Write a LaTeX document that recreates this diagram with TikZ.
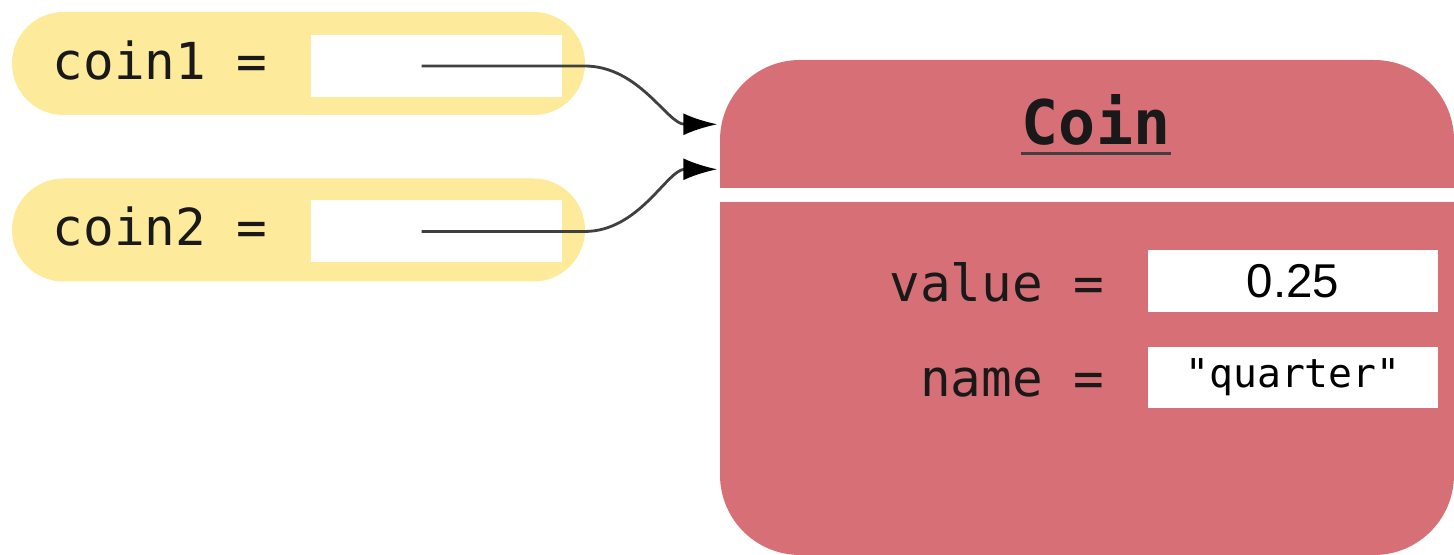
\documentclass[tikz,border=0pt]{standalone}
\usepackage{fontspec}
\setmainfont{Liberation Sans}
\setmonofont{DejaVu Sans Mono}
\usetikzlibrary{positioning,arrows.meta,calc}
\definecolor{pillyellow}{RGB}{253,234,155}
\definecolor{objred}{RGB}{215,111,118}

\begin{document}
\begin{tikzpicture}[
    var/.style ={
        fill=pillyellow,
        minimum width=5.73cm,
        minimum height=1.03cm,
        rounded corners=0.515cm,
        inner sep=0
    },
    slot/.style ={
        fill=white,
        minimum width=2.51cm,
        minimum height=0.62cm,
        inner sep=0
    },
    obj/.style ={
        fill=objred,
        minimum width=7.34cm,
        minimum height=4.95cm,
        rounded corners=0.8cm,
        inner sep=0
    },
    lbl/.style ={
        font=\ttfamily\fontsize{14.5}{17}\selectfont,
        text=black!90,
        inner sep=0
    },
    ref/.style ={
        draw=black!75,
        line width=0.8pt,
        -{Latex[length=0.34cm,width=0.22cm,black]}
    }
    ]
    \useasboundingbox (0,0) rectangle (14.54,5.55);

    % variables
    \node[var] (pill1) at (2.985,4.915) {};
    \node[var] (pill2) at (2.985,3.25) {};
    \node[slot] (slot1) at (4.365,4.89) {};
    \node[slot] (slot2) at (4.365,3.235) {};
    \node[lbl, anchor=base west] (coin1) at (0.52,4.75) {coin1 =};
    \node[lbl, anchor=base west] (coin2) at (0.52,3.09) {coin2 =};

    % object
    \node[obj] (coin) at (10.87,2.475) {};
    \fill[white] (coin.west |- 0,3.53) rectangle (14.54,3.67);
    \node[font=\ttfamily\bfseries\fontsize{17.5}{20}\selectfont, text=black!90,
        inner sep=0, anchor=base] (cname) at (10.96,4.10) {Coin};
    \draw[black!75, line width=1pt] ([yshift=-2.4pt]cname.base west) -- ([yshift=-2.4pt]cname.base east);

    \node[lbl, anchor=base east] (vallbl) at (11.05,2.53) {value =};
    \node[lbl, anchor=base east] (namelbl) at (11.05,1.58) {name =};
    \node[slot, minimum width=2.90cm, font=\fontsize{13.5}{16}\selectfont] (valbox) at (12.93,2.74) {0.25};
    \node[slot, minimum width=2.90cm, minimum height=0.61cm,
        font=\ttfamily\fontsize{11.3}{14}\selectfont] (namebox) at (12.93,1.775) {"quarter"};

    % references
    \draw[ref] ([xshift=-0.15cm]slot1.center) -- ++(1.63,0)
        .. controls +(0.55,0) and +(-0.5,0) .. ([xshift=-0.02cm,yshift=-0.65cm]coin.north west);
    \draw[ref] ([xshift=-0.15cm]slot2.center) -- ++(1.63,0)
        .. controls +(0.55,0) and +(-0.5,0) .. ([xshift=-0.02cm,yshift=-1.10cm]coin.north west);
\end{tikzpicture}
\end{document}
